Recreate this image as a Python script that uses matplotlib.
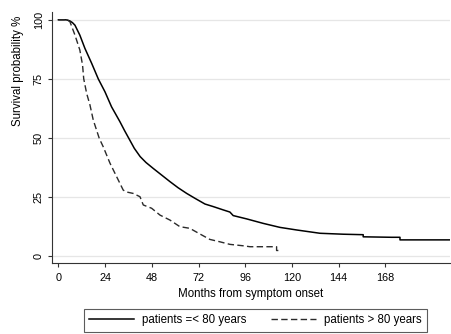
import matplotlib
matplotlib.use("Agg")
import matplotlib.pyplot as plt

plt.rcParams['font.family'] = ['Liberation Sans', 'DejaVu Sans']
plt.rcParams['lines.scale_dashes'] = False

# Kaplan-Meier estimates (months, survival %)
t_young = [0, 3.3, 4.6, 5.9, 7.2, 8.5, 11.0, 13.6, 17.1, 20.5, 23.9, 27.3, 31.6, 34.0, 36.0,
           39.0, 42.0, 45.0, 48.7, 53.0, 57.3, 61.5, 65.9, 70.2, 75.3, 79.6, 84.7,
           88.1, 89.8, 96.7, 105.2, 113.8, 122.4, 134.4, 146.4, 156.6, 156.6,
           171.2, 175.5, 175.5, 201.2]
s_young = [100, 100, 99.9, 99.5, 98.8, 97.7, 93.5, 87.9, 81.5, 74.9, 69.5, 63.1, 56.8, 53.0, 50.0,
           45.5, 42.0, 39.5, 37.0, 34.2, 31.4, 28.8, 26.4, 24.3, 21.9, 20.8, 19.4,
           18.5, 17.0, 15.6, 13.7, 12.0, 10.9, 9.5, 9.1, 8.9, 8.0,
           7.8, 7.8, 6.7, 6.7]

t_old = [0, 4.5, 5.9, 8.5, 11.0, 12.4, 13.0, 14.5, 16.2, 17.9, 21.0, 23.0, 26.5,
         29.9, 33.3, 35.0, 38.4, 41.9, 43.6, 47.9, 52.2, 57.3, 62.4, 67.5, 72.7,
         77.8, 82.9, 88.1, 94.9, 98.4, 112.1, 112.1, 113.0]
s_old = [100, 100, 99.2, 93.5, 87.2, 80.8, 75.0, 68.8, 63.9, 57.5, 49.7, 46.2, 39.2,
         33.5, 27.8, 27.0, 26.4, 25.0, 21.5, 20.1, 17.2, 15.1, 12.3, 11.6, 9.2,
         6.9, 5.9, 4.8, 4.2, 3.8, 3.8, 2.2, 2.2]

labels = ['patients =< 80 years', 'patients > 80 years']
x_ticks = [0, 24, 48, 72, 96, 120, 144, 168]
y_ticks = [0, 25, 50, 75, 100]

W, H = 452, 334
fig = plt.figure(figsize=(W / 100, H / 100), dpi=100)
ax = fig.add_axes([52 / W, (H - 263) / H, (450 - 52) / W, (263 - 12) / H])

ax.plot(t_young, s_young, color='black', lw=1.1, label=labels[0])
ax.plot(t_old, s_old, color='#2a2a2a', lw=1.0, dashes=(4.6, 2.4), label=labels[1])

ax.set_xlim(-3.3, 201.2)
ax.set_ylim(-3.1, 103.3)
ax.set_xticks(x_ticks)
ax.set_yticks(y_ticks)
ax.set_yticklabels([str(v) for v in y_ticks], rotation=90, va='center')
ax.grid(axis='y', color='#e6e6e6', lw=0.9)
ax.set_axisbelow(True)
for side in ['top', 'right']:
    ax.spines[side].set_visible(False)
for side in ['left', 'bottom']:
    ax.spines[side].set_color('#333333')
    ax.spines[side].set_linewidth(0.8)
ax.tick_params(axis='both', length=3, width=0.8, color='#333333',
               labelsize=7.8, labelcolor='black')
ax.tick_params(axis='x', pad=4)
ax.tick_params(axis='y', pad=3)

ax.set_xlabel('Months from symptom onset', fontsize=8.3, color='black', labelpad=4)
fig.text(18 / W, 1 - 71 / H, 'Survival probability %', rotation=90,
         ha='center', va='center', fontsize=8.3, color='black')

leg = fig.legend(loc='center', bbox_to_anchor=(255.5 / W, 1 - 320.5 / H), ncol=2,
                 fontsize=8.3, frameon=True, fancybox=False, handlelength=3.9,
                 handletextpad=0.7, columnspacing=2.1, borderpad=0.45)
leg.get_frame().set_edgecolor('#333333')
leg.get_frame().set_linewidth(0.8)

fig.savefig('out.png', dpi=100)
